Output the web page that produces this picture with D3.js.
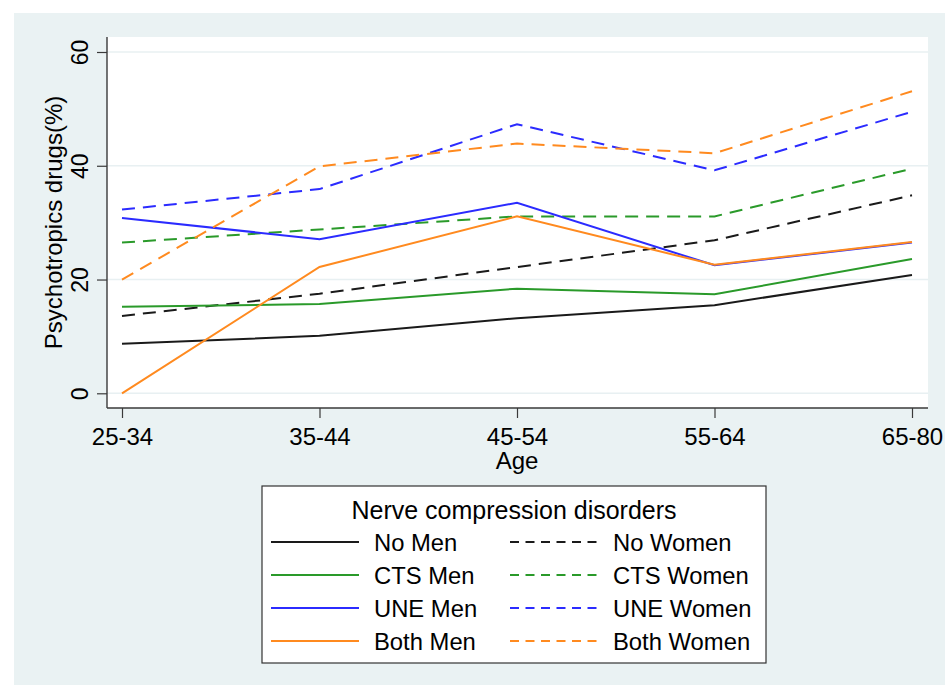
<!DOCTYPE html>
<html>
<head>
<meta charset="utf-8">
<script src="https://cdn.jsdelivr.net/npm/d3@7"></script>
<style>
  body { margin: 0; background: #fff; }
  svg { display: block; font-family: "Liberation Sans", Arial, sans-serif; }
</style>
</head>
<body>
<svg></svg>
<script>
// values
const ageGroups = ['25-34', '35-44', '45-54', '55-64', '65-80'];
const yTicks = [0, 20, 40, 60];

const noMen = [8.7, 10.1, 13.2, 15.5, 20.8];
const noWomen = [13.6, 17.5, 22.2, 26.9, 34.8];
const ctsMen = [15.2, 15.7, 18.4, 17.4, 23.6];
const ctsWomen = [26.5, 28.8, 31.1, 31.1, 39.5];
const uneMen = [30.8, 27.1, 33.5, 22.5, 26.5];
const uneWomen = [32.3, 35.9, 47.3, 39.2, 49.5];
const bothMen = [0, 22.2, 31.1, 22.6, 26.6];
const bothWomen = [20.0, 39.9, 43.9, 42.2, 53.1];

const seriesNames = ['No Men', 'No Women', 'CTS Men', 'CTS Women', 'UNE Men', 'UNE Women', 'Both Men', 'Both Women'];
const seriesValues = [noMen, noWomen, ctsMen, ctsWomen, uneMen, uneWomen, bothMen, bothWomen];

const width = 945;
const height = 685;

const colors = {
    No: '#1a1a1a',
    CTS: '#2a9a2a',
    UNE: '#2b2bff',
    Both: '#ff8a1f'
};

const plot = {left: 107, right: 928, top: 37, bottom: 408};

const svg = d3.select('svg')
    .attr('width', width)
    .attr('height', height);

// outer panel
svg.append('rect')
    .attr('x', 14).attr('y', 13)
    .attr('width', width - 14).attr('height', height - 13)
    .attr('fill', '#eaf2f3');

svg.append('rect')
    .attr('x', plot.left).attr('y', plot.top)
    .attr('width', plot.right - plot.left).attr('height', plot.bottom - plot.top)
    .attr('fill', '#ffffff');

const xScale = d3.scalePoint()
    .domain(ageGroups)
    .range([122, 912]);

const yScale = d3.scaleLinear()
    .domain([0, 60])
    .range([393.3, 52]);

// gridlines
svg.append('g')
    .selectAll('line')
    .data(yTicks)
    .enter()
    .append('line')
    .attr('x1', plot.left)
    .attr('x2', plot.right)
    .attr('y1', d => yScale(d))
    .attr('y2', d => yScale(d))
    .attr('stroke', '#e8f0f2')
    .attr('stroke-width', 1.6);

// axes
const yAxis = d3.axisLeft(yScale)
    .tickValues(yTicks)
    .tickSize(10)
    .tickSizeOuter(0);

const yG = svg.append('g')
    .attr('transform', `translate(${plot.left},0)`)
    .call(yAxis);
yG.select('.domain').remove();
yG.selectAll('.tick line').attr('stroke', '#3a3a3a').attr('stroke-width', 1.2);
yG.selectAll('.tick text')
    .attr('transform', 'rotate(-90)')
    .attr('x', 0)
    .attr('y', -19)
    .attr('dy', 0)
    .attr('text-anchor', 'middle')
    .attr('font-size', 23)
    .attr('font-family', '"Liberation Sans", Arial, sans-serif')
    .attr('fill', '#000');

const xAxis = d3.axisBottom(xScale)
    .tickSize(10)
    .tickSizeOuter(0);

const xG = svg.append('g')
    .attr('transform', `translate(0,${plot.bottom})`)
    .call(xAxis);
xG.select('.domain').remove();
xG.selectAll('.tick line').attr('stroke', '#3a3a3a').attr('stroke-width', 1.2);
xG.selectAll('.tick text')
    .attr('y', 37)
    .attr('dy', 0)
    .attr('font-size', 24)
    .attr('font-family', '"Liberation Sans", Arial, sans-serif')
    .attr('fill', '#000');

svg.append('line')
    .attr('x1', plot.left).attr('x2', plot.left)
    .attr('y1', plot.top).attr('y2', plot.bottom)
    .attr('stroke', '#3a3a3a').attr('stroke-width', 1.4);
svg.append('line')
    .attr('x1', plot.left).attr('x2', plot.right)
    .attr('y1', plot.bottom).attr('y2', plot.bottom)
    .attr('stroke', '#3a3a3a').attr('stroke-width', 1.4);

// axis titles
svg.append('text')
    .attr('transform', `translate(62,${(plot.top + plot.bottom) / 2}) rotate(-90)`)
    .attr('text-anchor', 'middle')
    .attr('font-size', 24)
    .text('Psychotropics drugs(%)');

svg.append('text')
    .attr('x', 517)
    .attr('y', 469)
    .attr('text-anchor', 'middle')
    .attr('font-size', 24)
    .text('Age');

// lines
const line = d3.line()
    .x((d, i) => xScale(ageGroups[i]))
    .y(d => yScale(d));

seriesValues.forEach((vals, i) => {
    const name = seriesNames[i];
    const group = name.split(' ')[0];
    const dashed = name.endsWith('Women');
    svg.append('path')
        .datum(vals)
        .attr('d', line)
        .attr('fill', 'none')
        .attr('stroke', colors[group])
        .attr('stroke-width', 2)
        .attr('stroke-dasharray', dashed ? '13,8' : null);
});

// legend
const legend = svg.append('g');
legend.append('rect')
    .attr('x', 262).attr('y', 486)
    .attr('width', 504).attr('height', 177)
    .attr('fill', '#fff')
    .attr('stroke', '#333')
    .attr('stroke-width', 1.2);

legend.append('text')
    .attr('x', 514)
    .attr('y', 519)
    .attr('text-anchor', 'middle')
    .attr('font-size', 25)
    .text('Nerve compression disorders');

seriesNames.forEach((name, i) => {
    const col = i % 2;
    const row = Math.floor(i / 2);
    const ly = 542 + row * 33;
    const lx = col === 0 ? 271 : 510;
    const group = name.split(' ')[0];
    legend.append('line')
        .attr('x1', lx).attr('x2', lx + 88)
        .attr('y1', ly).attr('y2', ly)
        .attr('stroke', colors[group])
        .attr('stroke-width', 2)
        .attr('stroke-dasharray', col === 1 ? '9,6.5' : null);
    legend.append('text')
        .attr('x', col === 0 ? 374 : 613)
        .attr('y', ly + 9)
        .attr('font-size', 23.8)
        .text(name);
});
</script>
</body>
</html>
